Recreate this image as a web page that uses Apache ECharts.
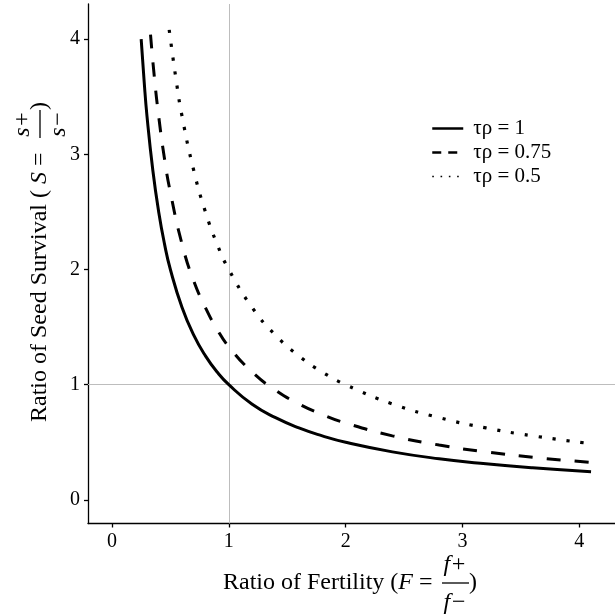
<!DOCTYPE html>
<html>
<head>
<meta charset="utf-8">
<script src="https://cdn.jsdelivr.net/npm/echarts@6/dist/echarts.min.js"></script>
<style>
html,body{margin:0;padding:0;background:#fff;}
#chart{width:615px;height:615px;}
</style>
</head>
<body>
<div id="chart"></div>
<script>
// ---- data ----
const seriesNames = ['τρ = 1', 'τρ = 0.75', 'τρ = 0.5'];
const tickValues = [0, 1, 2, 3, 4];

const fSolid = [0.25, 0.275, 0.3, 0.35, 0.4, 0.45, 0.5, 0.6, 0.7, 0.8, 0.9, 1.0, 1.2, 1.4, 1.6, 1.8, 2.0, 2.4, 2.8, 3.2, 3.6, 4.1];
const sSolid = [4.0, 3.64, 3.33, 2.86, 2.5, 2.22, 2.0, 1.67, 1.43, 1.25, 1.11, 1.0, 0.83, 0.714, 0.625, 0.556, 0.5, 0.417, 0.357, 0.313, 0.278, 0.244];

const fDashed = [0.33, 0.36, 0.4, 0.45, 0.5, 0.6, 0.7, 0.8, 0.9, 1.0, 1.2, 1.4, 1.6, 1.8, 2.0, 2.4, 2.8, 3.2, 3.6, 4.1];
const sDashed = [4.04, 3.70, 3.33, 2.96, 2.67, 2.22, 1.90, 1.67, 1.48, 1.33, 1.11, 0.952, 0.833, 0.741, 0.667, 0.556, 0.476, 0.417, 0.37, 0.325];

const fDotted = [0.49, 0.55, 0.6, 0.7, 0.8, 0.9, 1.0, 1.2, 1.4, 1.6, 1.8, 2.0, 2.4, 2.8, 3.2, 3.6, 4.1];
const sDotted = [4.08, 3.64, 3.33, 2.86, 2.5, 2.22, 2.0, 1.67, 1.43, 1.25, 1.11, 1.0, 0.833, 0.714, 0.625, 0.556, 0.488];

const refX = 1;
const refY = 1;

// ---- chart ----
const FONT = 'Liberation Serif';
const pairs = (xs, ys) => xs.map((x, i) => [x, ys[i]]);

const chart = echarts.init(document.getElementById('chart'), null, {renderer: 'canvas'});

const axisCommon = {
  type: 'value',
  min: -0.205,
  max: 4.305,
  axisLine: {show: true, onZero: false, lineStyle: {color: '#000', width: 1.3}},
  axisTick: {show: true, customValues: tickValues, length: 4, lineStyle: {color: '#000', width: 1.3}},
  axisLabel: {customValues: tickValues, fontFamily: FONT, fontSize: 20, color: '#000', margin: 8},
  splitLine: {show: false}
};

const lineBase = {
  type: 'line',
  symbol: 'none',
  smooth: 0.5,
  silent: true
};

const hiddenSymbol = {color: 'rgba(0,0,0,0)', borderWidth: 0, opacity: 0};

chart.setOption({
  animation: false,
  backgroundColor: '#fff',
  grid: {left: 88, right: 0, top: 4, bottom: 91.5, containLabel: false},
  xAxis: Object.assign({}, axisCommon),
  yAxis: Object.assign({}, axisCommon),
  legend: {
    orient: 'vertical',
    left: 426,
    top: 113,
    itemWidth: 31,
    itemHeight: 20,
    itemGap: 3,
    selectedMode: false,
    textStyle: {fontFamily: FONT, fontSize: 21, color: '#000', padding: [0, 0, 0, 5]},
    data: [
      {name: seriesNames[0], itemStyle: hiddenSymbol, lineStyle: {width: 2.5, type: 'solid', color: '#000'}},
      {name: seriesNames[1], itemStyle: hiddenSymbol, lineStyle: {width: 2.5, type: [9, 7], color: '#000'}},
      {name: seriesNames[2], itemStyle: hiddenSymbol, lineStyle: {width: 1.6, type: [1.6, 6.7], color: '#000'}}
    ]
  },
  series: [
    Object.assign({}, lineBase, {
      name: seriesNames[0],
      data: pairs(fSolid, sSolid),
      lineStyle: {color: '#000', width: 3, type: 'solid'},
      itemStyle: {color: '#000'},
      z: 3,
      markLine: {
        silent: true,
        symbol: ['none', 'none'],
        label: {show: false},
        lineStyle: {color: '#bdbdbd', width: 1, type: 'solid'},
        data: [{xAxis: refX}, {yAxis: refY}],
        z: 1
      }
    }),
    Object.assign({}, lineBase, {
      name: seriesNames[1],
      data: pairs(fDashed, sDashed),
      lineStyle: {color: '#000', width: 3, type: [14, 14], cap: 'butt'},
      itemStyle: {color: '#000'},
      z: 3
    }),
    Object.assign({}, lineBase, {
      name: seriesNames[2],
      data: pairs(fDotted, sDotted),
      lineStyle: {color: '#000', width: 3.2, type: [3.2, 10.8], cap: 'butt'},
      itemStyle: {color: '#000'},
      z: 3
    })
  ],
  graphic: [
    // x-axis title
    {
      type: 'group',
      x: 0, y: 0,
      silent: true,
      children: [
        {type: 'text', x: 223, y: 583, style: {text: 'Ratio of Fertility ({i|F} =', fontFamily: FONT, fontSize: 24, fill: '#000', align: 'left', verticalAlign: 'middle', textAlign: 'left', textVerticalAlign: 'middle', rich: {i: {fontFamily: FONT, fontSize: 24, fontStyle: 'italic'}}}},
        {type: 'text', x: 455, y: 565, style: {text: 'f+', fontFamily: FONT, fontSize: 24, fontStyle: 'italic', fill: '#000', align: 'center', verticalAlign: 'middle', textAlign: 'center', textVerticalAlign: 'middle'}},
        {type: 'line', shape: {x1: 442, y1: 583, x2: 469, y2: 583}, style: {stroke: '#000', lineWidth: 1.3}},
        {type: 'text', x: 455, y: 603, style: {text: 'f−', fontFamily: FONT, fontSize: 24, fontStyle: 'italic', fill: '#000', align: 'center', verticalAlign: 'middle', textAlign: 'center', textVerticalAlign: 'middle'}},
        {type: 'text', x: 469, y: 583, style: {text: ')', fontFamily: FONT, fontSize: 24, fill: '#000', align: 'left', verticalAlign: 'middle', textAlign: 'left', textVerticalAlign: 'middle'}}
      ]
    },
    // y-axis title (rotated)
    {
      type: 'group',
      x: 40, y: 422,
      rotation: Math.PI / 2,
      silent: true,
      children: [
        {type: 'text', x: 0, y: 0, style: {text: 'Ratio of Seed Survival ( {i|S} =', fontFamily: FONT, fontSize: 24, fill: '#000', align: 'left', verticalAlign: 'middle', textAlign: 'left', textVerticalAlign: 'middle', rich: {i: {fontFamily: FONT, fontSize: 24, fontStyle: 'italic'}}}},
        {type: 'text', x: 298, y: -17, style: {text: 's+', fontFamily: FONT, fontSize: 24, fontStyle: 'italic', fill: '#000', align: 'center', verticalAlign: 'middle', textAlign: 'center', textVerticalAlign: 'middle'}},
        {type: 'line', shape: {x1: 284, y1: 0, x2: 312, y2: 0}, style: {stroke: '#000', lineWidth: 1.3}},
        {type: 'text', x: 298, y: 19, style: {text: 's−', fontFamily: FONT, fontSize: 24, fontStyle: 'italic', fill: '#000', align: 'center', verticalAlign: 'middle', textAlign: 'center', textVerticalAlign: 'middle'}},
        {type: 'text', x: 312, y: 0, style: {text: ')', fontFamily: FONT, fontSize: 24, fill: '#000', align: 'left', verticalAlign: 'middle', textAlign: 'left', textVerticalAlign: 'middle'}}
      ]
    }
  ]
});
</script>
</body>
</html>
